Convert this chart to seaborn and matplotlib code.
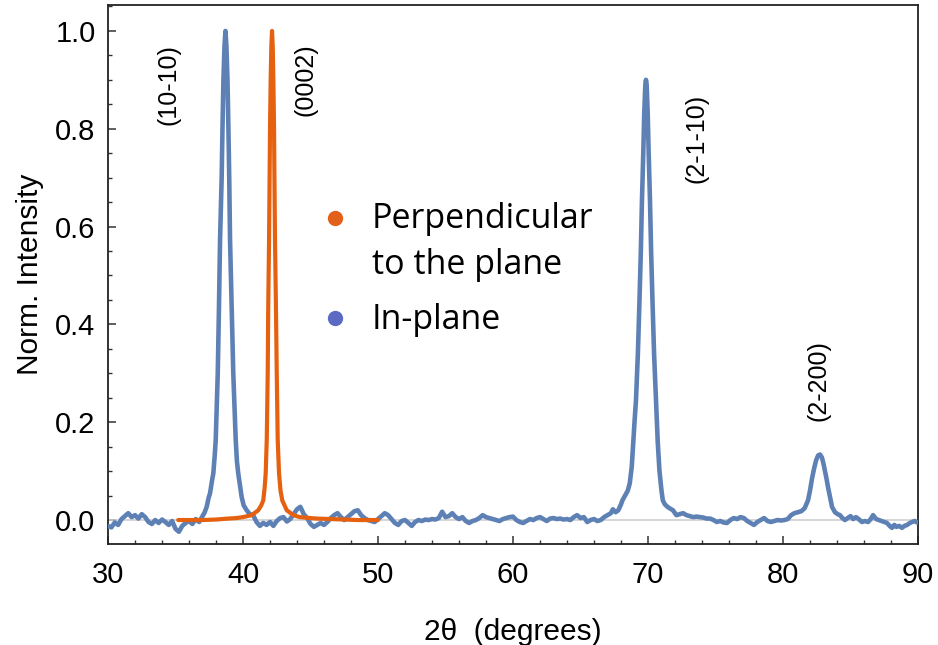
import numpy as np
import pandas as pd
import matplotlib
matplotlib.use("Agg")
import matplotlib.pyplot as plt
from matplotlib.lines import Line2D
from matplotlib.legend_handler import HandlerLine2D
from matplotlib.ticker import MultipleLocator
import seaborn as sns

# ---------------- data ----------------
inplane_2theta = [
    30.0, 30.25, 30.5, 30.75, 31.0, 31.25, 31.5, 31.75, 32.0, 32.25, 32.5, 32.75,
    33.0, 33.25, 33.5, 33.75, 34.0, 34.25, 34.5, 34.75, 35.0, 35.25, 35.5, 35.75,
    36.0, 36.25, 36.5, 36.75, 37.0, 37.15, 37.31, 37.45, 37.56, 37.73, 37.8, 37.9,
    37.98, 38.05, 38.13, 38.22, 38.30, 38.42, 38.48, 38.55, 38.63, 38.70, 38.77,
    38.85, 38.92, 38.98, 39.04, 39.16, 39.28, 39.37, 39.46, 39.55, 39.65, 39.90,
    40.05, 40.27, 40.5, 40.75, 41.0, 41.25, 41.5, 41.75, 42.0, 42.25, 42.5, 42.75,
    43.0, 43.25, 43.5, 43.75, 44.0, 44.25, 44.5, 44.75, 45.0, 45.25, 45.5, 45.75,
    46.0, 46.25, 46.5, 46.75, 47.0, 47.25, 47.5, 47.75, 48.0, 48.25, 48.5, 48.75,
    49.0, 49.25, 49.5, 49.75, 50.0, 50.25, 50.5, 50.75, 51.0, 51.25, 51.5, 51.75,
    52.0, 52.25, 52.5, 52.75, 53.0, 53.25, 53.5, 53.75, 54.0, 54.25, 54.5, 54.75,
    55.0, 55.25, 55.5, 55.75, 56.0, 56.25, 56.5, 56.75, 57.0, 57.25, 57.5, 57.75,
    58.0, 58.25, 58.5, 58.75, 59.0, 59.25, 59.5, 59.75, 60.0, 60.25, 60.5, 60.75,
    61.0, 61.25, 61.5, 61.75, 62.0, 62.25, 62.5, 62.75, 63.0, 63.25, 63.5, 63.75,
    64.0, 64.25, 64.5, 64.75, 65.0, 65.25, 65.5, 65.75, 66.0, 66.25, 66.5, 66.75,
    67.0, 67.25, 67.4, 67.6, 67.8, 68.0, 68.1, 68.3, 68.5, 68.65, 68.8, 69.0,
    69.11, 69.25, 69.37, 69.47, 69.55, 69.65, 69.72, 69.8, 69.85, 69.9, 69.98,
    70.05, 70.15, 70.23, 70.33, 70.45, 70.59, 70.72, 70.85, 71.0, 71.1, 71.25,
    71.4, 71.6, 71.85, 72.1, 72.35, 72.6, 72.85, 73.1, 73.35, 73.6, 73.85, 74.1,
    74.35, 74.6, 74.85, 75.1, 75.35, 75.6, 75.85, 76.1, 76.35, 76.6, 76.85, 77.1,
    77.35, 77.6, 77.85, 78.1, 78.35, 78.6, 78.85, 79.1, 79.35, 79.6, 79.85, 80.1,
    80.35, 80.6, 80.85, 81.1, 81.35, 81.6, 81.85, 82.0, 82.15, 82.3, 82.45, 82.6,
    82.74, 82.88, 83.0, 83.11, 83.22, 83.33, 83.5, 83.63, 83.85, 84.05, 84.22,
    84.4, 84.59, 84.8, 85.0, 85.2, 85.4, 85.6, 85.85, 86.05, 86.3, 86.5, 86.67,
    86.9, 87.1, 87.3, 87.5, 87.7, 87.9, 88.07, 88.25, 88.4, 88.6, 88.81, 89.0,
    89.19, 89.4, 89.56, 89.75, 89.93, 90.0,
]
inplane_intensity = [
    -0.012, -0.015, -0.005, -0.010, 0.002, 0.008, 0.014, 0.006, 0.010, 0.003, 0.012, 0.006,
    -0.004, -0.008, 0.000, -0.006, 0.001, -0.004, -0.010, -0.002, -0.018, -0.024, -0.012, -0.006,
    -0.002, -0.008, 0.002, -0.004, 0.008, 0.015, 0.027, 0.045, 0.055, 0.085, 0.095, 0.130,
    0.164, 0.230, 0.300, 0.436, 0.573, 0.700, 0.800, 0.900, 0.970, 1.000, 0.970,
    0.900, 0.800, 0.700, 0.573, 0.436, 0.300, 0.230, 0.164, 0.120, 0.095, 0.047,
    0.030, 0.020, 0.012, 0.010, -0.004, -0.012, -0.006, -0.010, -0.004, -0.012, -0.002, 0.004,
    0.006, -0.003, 0.002, 0.012, 0.022, 0.027, 0.012, 0.004, -0.008, -0.014, -0.010, -0.006,
    -0.010, -0.004, 0.004, 0.010, 0.014, 0.006, 0.000, 0.006, 0.012, 0.018, 0.020, 0.010,
    0.004, 0.000, -0.002, -0.004, 0.002, 0.008, 0.014, 0.010, 0.002, -0.006, -0.010, -0.002,
    0.000, -0.006, -0.012, -0.004, 0.000, -0.002, 0.001, 0.000, 0.002, 0.001, 0.004, 0.017,
    0.006, 0.008, 0.014, 0.006, 0.002, 0.006, -0.002, -0.006, -0.002, 0.000, 0.004, 0.010,
    0.006, 0.004, 0.002, 0.000, -0.002, 0.002, 0.004, 0.006, 0.007, 0.000, -0.004, -0.006,
    -0.002, 0.002, 0.000, 0.004, 0.006, 0.002, -0.002, 0.003, 0.004, 0.002, 0.003, 0.001,
    0.002, 0.000, 0.006, 0.010, 0.004, 0.006, -0.004, 0.000, 0.002, -0.002, 0.000, 0.006,
    0.010, 0.014, 0.022, 0.016, 0.020, 0.032, 0.040, 0.050, 0.060, 0.075, 0.110, 0.200,
    0.245, 0.340, 0.450, 0.550, 0.650, 0.750, 0.830, 0.890, 0.900, 0.890, 0.830,
    0.750, 0.650, 0.550, 0.450, 0.340, 0.245, 0.160, 0.100, 0.060, 0.040, 0.032,
    0.028, 0.024, 0.020, 0.010, 0.012, 0.014, 0.010, 0.008, 0.006, 0.007, 0.006, 0.005,
    0.003, 0.003, 0.000, -0.004, -0.002, -0.005, -0.006, 0.000, 0.004, 0.002, 0.006, 0.004,
    -0.002, -0.006, -0.010, -0.004, 0.000, 0.004, -0.002, -0.004, -0.002, 0.000, -0.001, 0.000,
    0.002, 0.010, 0.014, 0.016, 0.018, 0.024, 0.040, 0.060, 0.085, 0.105, 0.122, 0.132,
    0.134, 0.128, 0.115, 0.100, 0.085, 0.068, 0.045, 0.027, 0.016, 0.012, 0.010,
    0.004, 0.000, 0.004, 0.008, 0.002, 0.006, 0.002, -0.004, -0.002, -0.004, 0.002, 0.010,
    0.002, 0.000, -0.002, -0.004, -0.006, -0.012, -0.016, -0.010, -0.014, -0.012, -0.016, -0.012,
    -0.010, -0.006, -0.004, -0.002, -0.005, -0.004,
]

perp_2theta = [
    35.2, 36.0, 37.0, 38.0, 38.89, 39.5, 40.0, 40.64, 41.13, 41.35, 41.50, 41.60,
    41.68, 41.76, 41.83, 41.87, 41.93, 41.97, 42.0, 42.05, 42.1, 42.15, 42.2, 42.25,
    42.3, 42.33, 42.37, 42.44, 42.50, 42.57, 42.67, 42.78, 42.91, 43.24, 43.73, 44.2,
    45.0, 45.5, 46.5, 47.5, 48.5, 50.0,
]
perp_intensity = [
    0.000, 0.000, 0.000, 0.001, 0.003, 0.004, 0.006, 0.010, 0.020, 0.030, 0.040, 0.065,
    0.095, 0.164, 0.300, 0.436, 0.573, 0.700, 0.800, 0.900, 0.970, 1.000, 0.970, 0.900,
    0.800, 0.700, 0.573, 0.436, 0.300, 0.164, 0.095, 0.060, 0.040, 0.020, 0.010, 0.006,
    0.004, 0.003, 0.002, 0.001, 0.000, 0.000,
]

series_labels = ["Perpendicular\nto the plane", "In-plane"]
peak_labels = ["(10-10)", "(0002)", "(2-1-10)", "(2-200)"]
peak_label_x = [34.45, 44.6, 73.6, 82.6]
peak_label_y = [0.89, 0.90, 0.78, 0.286]

x_ticks = [30, 40, 50, 60, 70, 80, 90]
y_ticks = [0.0, 0.2, 0.4, 0.6, 0.8, 1.0]

# ---------------- styling ----------------
sns.set_theme(style="white")
plt.rcParams['font.family'] = ['Liberation Sans', 'DejaVu Sans']

BLUE = "#5E81B5"
ORANGE = "#E5600F"
BLUE_DOT = "#5B6BC4"
ORANGE_DOT = "#E2601A"


class OffsetMarkerHandler(HandlerLine2D):
    """Legend handler that lifts the marker so it sits on the first text line."""

    def __init__(self, dy=0.0, **kw):
        super().__init__(**kw)
        self.dy = dy

    def create_artists(self, legend, orig_handle, xdescent, ydescent, width,
                       height, fontsize, trans):
        arts = super().create_artists(legend, orig_handle, xdescent, ydescent,
                                      width, height, fontsize, trans)
        for a in arts:
            if isinstance(a, Line2D):
                a.set_ydata(np.asarray(a.get_ydata(), dtype=float) + self.dy)
        return arts


fig = plt.figure(figsize=(9.38, 6.45), dpi=100)
ax = fig.add_axes([108 / 938, 101 / 645, 810 / 938, 539 / 645])

df_in = pd.DataFrame({"x": inplane_2theta, "y": inplane_intensity})
df_pp = pd.DataFrame({"x": perp_2theta, "y": perp_intensity})

ax.axhline(0, color="#cfcfcf", lw=1.2, zorder=1)
sns.lineplot(data=df_in, x="x", y="y", ax=ax, color=BLUE, lw=3.3,
             estimator=None, sort=False, zorder=3)
sns.lineplot(data=df_pp, x="x", y="y", ax=ax, color=ORANGE, lw=3.0,
             estimator=None, sort=False, zorder=4)

ax.set_xlim(30, 90)
ax.set_ylim(-0.049, 1.053)
ax.set_xticks(x_ticks)
ax.set_yticks(y_ticks)
ax.set_xticklabels([str(v) for v in x_ticks])
ax.set_yticklabels([f"{v:.1f}" for v in y_ticks])
ax.xaxis.set_minor_locator(MultipleLocator(2))
ax.yaxis.set_minor_locator(MultipleLocator(0.05))
ax.tick_params(axis="both", which="major", direction="in", length=5.5, width=1.1,
               color="#333333", labelsize=21, labelcolor="black")
ax.tick_params(axis="x", which="major", pad=12)
ax.tick_params(axis="y", which="major", pad=9)
ax.tick_params(axis="both", which="minor", direction="in", length=3.2, width=1.0,
               color="#333333")
ax.tick_params(top=False, right=False, which="both")
ax.tick_params(axis="both", which="both", bottom=True, left=True)

for s in ax.spines.values():
    s.set_color("#222222")
    s.set_linewidth(1.3)

ax.set_xlabel("2θ  (degrees)", fontsize=21.5, labelpad=21, color="black")
ax.set_ylabel("Norm. Intensity", fontsize=21.5, labelpad=8, color="black")

for lab, lx, ly in zip(peak_labels, peak_label_x, peak_label_y):
    ax.text(lx, ly, lab, rotation=90, ha="center", va="center", fontsize=18,
            color="black")

orange_handle = Line2D([], [], ls="", marker="o", markersize=10, color=ORANGE_DOT)
blue_handle = Line2D([], [], ls="", marker="o", markersize=10, color=BLUE_DOT)
leg = ax.legend([orange_handle, blue_handle], series_labels, loc="upper left",
                bbox_to_anchor=(0.243, 0.66), frameon=False,
                prop={"family": "Open Sans", "size": 24.5},
                handletextpad=0.56, labelspacing=0.62, handlelength=1.0,
                borderaxespad=0, labelcolor="black",
                handler_map={orange_handle: OffsetMarkerHandler(dy=18)})
for t in leg.get_texts():
    t.set_linespacing(1.48)

fig.savefig("out.png", dpi=100)
